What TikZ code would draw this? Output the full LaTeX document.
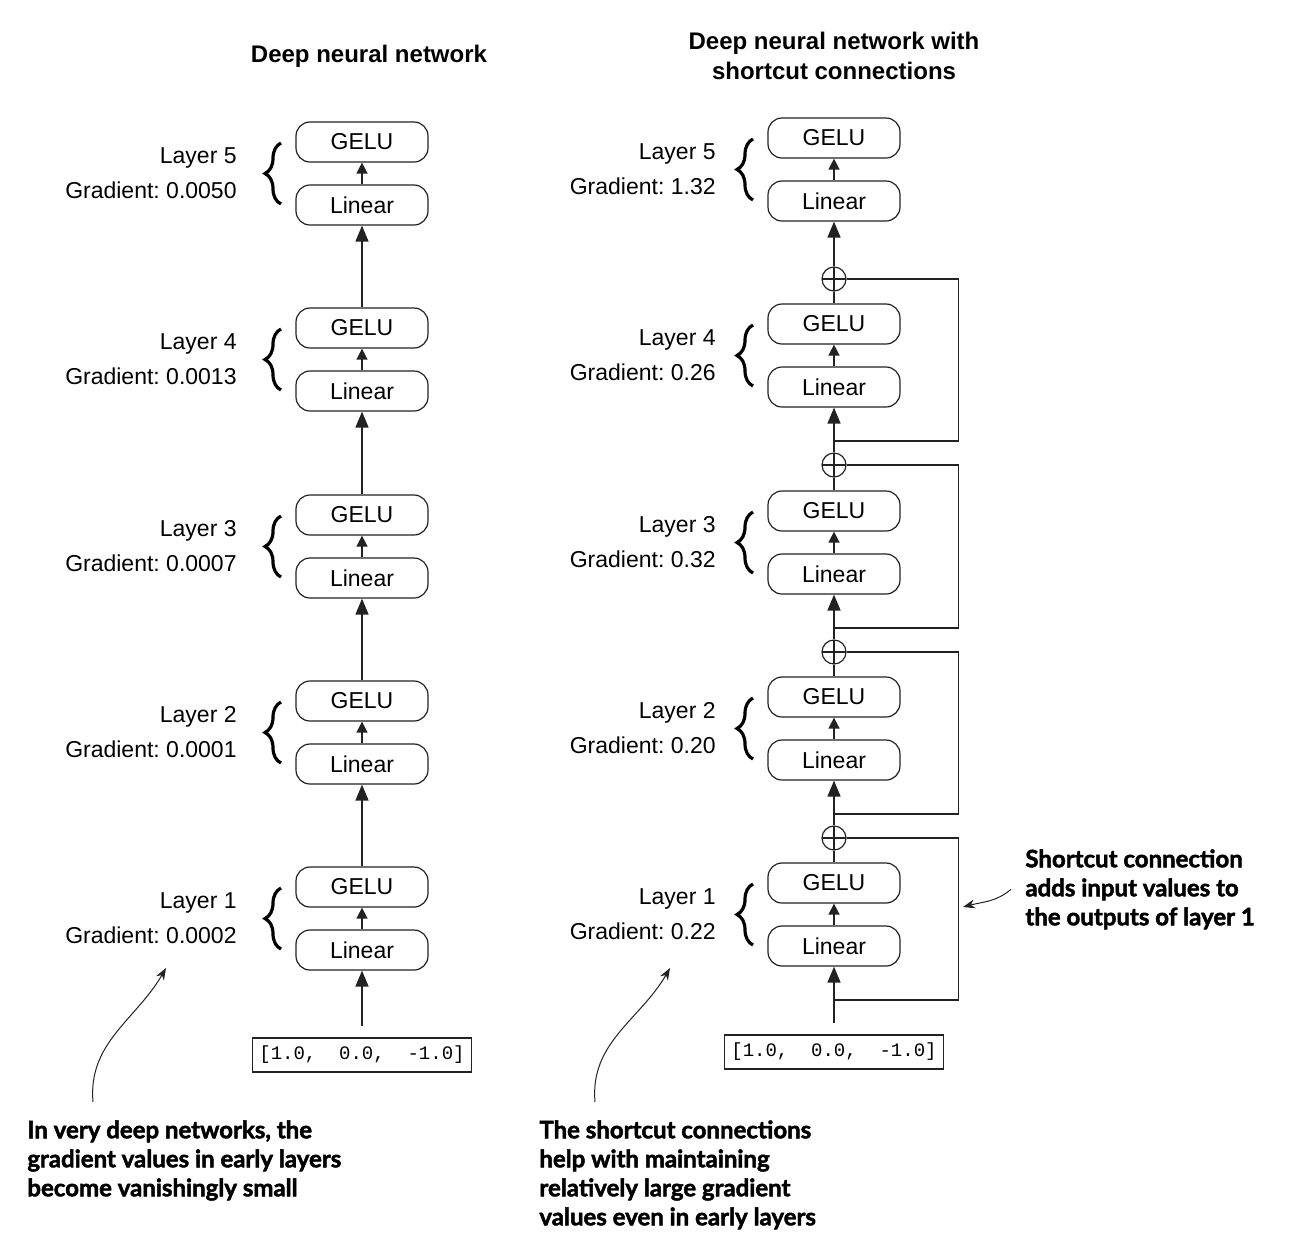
\documentclass[tikz,border=0pt]{standalone}
\usepackage{fontspec}
\setmainfont{Liberation Sans}
\newfontfamily\notefont{Lato}[BoldFeatures={FakeBold=2}]
\newfontfamily\codefont{Liberation Mono}
\usetikzlibrary{arrows.meta,decorations.pathreplacing}

\definecolor{ink}{HTML}{222222}

\tikzset{
  unit/.style={draw=ink, line width=0.6pt, rounded corners=7pt, minimum width=66pt,
    minimum height=20pt, inner sep=0pt, font=\fontsize{11.5}{13}\selectfont},
  flow/.style={draw=ink, line width=0.75pt, -{Triangle[width=6.5pt,length=8pt]}},
  hop/.style={draw=ink, line width=0.75pt, -{Triangle[width=5.5pt,length=5.5pt]}},
  wire/.style={draw=ink, line width=0.75pt},
  addop/.style={circle, draw=ink, line width=0.6pt, minimum size=12pt, inner sep=0pt,
    path picture={\draw[ink, line width=0.6pt]
      (path picture bounding box.north) -- (path picture bounding box.south)
      (path picture bounding box.west) -- (path picture bounding box.east);}},
  tag/.style={align=right, anchor=east, inner sep=0pt, font=\fontsize{11.5}{17.5}\selectfont},
  curly/.style={draw=black, line width=1.6pt, decorate,
    decoration={brace, amplitude=8pt}},
  head/.style={align=center, inner sep=0pt, font=\bfseries\fontsize{12}{15}\selectfont},
  note/.style={align=left, anchor=north west, inner sep=0pt,
    font=\notefont\bfseries\fontsize{12}{14.5}\selectfont},
  callout/.style={draw=ink, line width=0.5pt, -{Stealth[length=6pt,width=4.5pt]}},
  inbox/.style={draw=ink, line width=0.75pt, minimum width=109.5pt, minimum height=17pt,
    inner sep=0pt, font=\codefont\fontsize{9.5}{11}\selectfont}
}

\begin{document}
\frenchspacing
\begin{tikzpicture}[x=0.5pt, y=0.5pt]

  \useasboundingbox (0,0) rectangle (1294,-1244);

  % titles
  \node[head] (hA) at (369,-56) {Deep neural network};
  \node[head] (hB) at (834,-56) {Deep neural network with\\shortcut connections};

  % plain network
  \foreach \n/\y/\g in {5/142/0.0050, 4/328/0.0013, 3/515/0.0007, 2/701/0.0001, 1/887/0.0002}{
    \node[unit] (gA\n) at (362,-\y) {GELU};
    \node[unit] (lA\n) at (362,-\y-63) {Linear};
    \draw[hop] (lA\n) -- (gA\n);
    \draw[curly] (281,-\y-62) -- (281,-\y-1);
    \node[tag] (tA\n) at (237,-\y-31.5) {Layer \n\\Gradient: \g};
  }
  \foreach \n/\m in {1/2, 2/3, 3/4, 4/5}
    \draw[flow] (gA\n) -- (lA\m);

  \node[inbox] (inA) at (362,-1055) {[1.0,\ \ 0.0,\ \ -1.0]};
  \draw[flow, shorten <=5.5pt] (inA) -- (lA1);

  % network with shortcuts
  \foreach \n/\y/\g in {5/138/1.32, 4/324/0.26, 3/511/0.32, 2/697/0.20, 1/883/0.22}{
    \node[unit] (gB\n) at (834,-\y) {GELU};
    \node[unit] (lB\n) at (834,-\y-63) {Linear};
    \draw[hop] (lB\n) -- (gB\n);
    \draw[curly] (753,-\y-62) -- (753,-\y-1);
    \node[tag] (tB\n) at (716,-\y-31.5) {Layer \n\\Gradient: \g};
    \coordinate (jB\n) at (834,-\y-117);
  }
  \foreach \n/\y in {1/838, 2/652, 3/465, 4/279}
    \node[addop] (pB\n) at (834,-\y) {};

  \node[inbox] (inB) at (834,-1052) {[1.0,\ \ 0.0,\ \ -1.0]};
  \draw[flow, shorten <=5.5pt] (inB) -- (lB1);

  \foreach \n/\m in {1/2, 2/3, 3/4, 4/5}{
    \draw[wire] (gB\n) -- (pB\n);
    \draw[flow] (pB\n) -- (lB\m);
    \draw[wire] (pB\n.east) -- ++(112,0) |- (jB\n);
  }

  % notes
  \node[note] (nA) at (27,-1120) {In very deep networks, the\\gradient values in early layers\\become vanishingly small};
  \node[note] (nB) at (539,-1120) {The shortcut connections\\help with maintaining\\relatively large gradient\\values even in early layers};
  \node[note] (nC) at (1025,-849) {Shortcut connection\\adds input values to\\the outputs of layer 1};

  \coordinate (cA) at (166,-968);
  \coordinate (cB) at (670,-968);
  \coordinate (cC) at (963,-907);
  \draw[callout] ([shift={(66,18)}]nA.north west) to[out=95,in=-120] (cA);
  \draw[callout] ([shift={(56,18)}]nB.north west) to[out=95,in=-120] (cB);
  \draw[callout] ([xshift=-7]nC.west) to[out=220,in=15] (cC);

\end{tikzpicture}
\end{document}
